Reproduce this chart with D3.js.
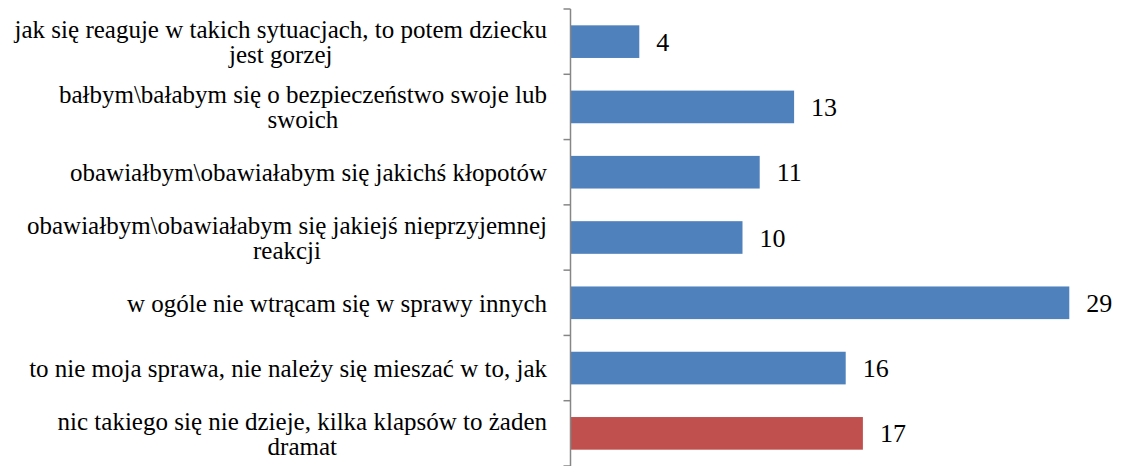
<!DOCTYPE html>
<html>
<head>
<meta charset="utf-8">
<script src="https://cdn.jsdelivr.net/npm/d3@7"></script>
<style>
  html, body { margin: 0; padding: 0; background: #fff; }
  svg { display: block; }
  .lbl { font-family: "Liberation Serif", "DejaVu Serif", serif; }
</style>
</head>
<body>
<svg id="chart" width="1121" height="466"></svg>
<script>
// Answers, listed top to bottom; "\n" marks a line break in the label
const categories = [
  "jak się reaguje w takich sytuacjach, to potem dziecku\njest gorzej",
  "bałbym\\bałabym się o bezpieczeństwo swoje lub\nswoich",
  "obawiałbym\\obawiałabym się jakichś kłopotów",
  "obawiałbym\\obawiałabym się jakiejś nieprzyjemnej\nreakcji",
  "w ogóle nie wtrącam się w sprawy innych",
  "to nie moja sprawa, nie należy się mieszać w to, jak",
  "nic takiego się nie dzieje, kilka klapsów to żaden\ndramat"
];
const values = [4, 13, 11, 10, 29, 16, 17];
const highlighted = [false, false, false, false, false, false, true];

const chartW = 1121, chartH = 466;
const axisX = 570.5, plotTop = 9, plotBottom = 466;

const svg = d3.select("#chart");

const y = d3.scaleBand()
  .domain(categories)
  .range([plotTop, plotBottom])
  .paddingInner(0.5)
  .paddingOuter(0.25);

const x = d3.scaleLinear()
  .domain([0, 30])
  .range([axisX, axisX + 516]);

// Bars
svg.append("g")
  .selectAll("rect")
  .data(categories)
  .join("rect")
  .attr("x", axisX)
  .attr("y", d => y(d))
  .attr("width", (d, i) => x(values[i]) - axisX)
  .attr("height", y.bandwidth())
  .attr("fill", (d, i) => highlighted[i] ? "#C0504D" : "#4F81BD");

// Value labels
svg.append("g")
  .attr("class", "lbl")
  .selectAll("text")
  .data(categories)
  .join("text")
  .attr("x", (d, i) => x(values[i]) + 17)
  .attr("y", d => y(d) + y.bandwidth() / 2)
  .attr("dy", "0.35em")
  .style("font-size", "26px")
  .attr("fill", "#000")
  .text((d, i) => values[i]);

// Category axis: vertical line with ticks on the band boundaries
const step = (plotBottom - plotTop) / categories.length;
const axisG = svg.append("g");
axisG.append("line")
  .attr("x1", axisX).attr("x2", axisX)
  .attr("y1", plotTop).attr("y2", plotBottom)
  .attr("stroke", "#868686").attr("stroke-width", 1.5);
axisG.selectAll("line.tick")
  .data(d3.range(categories.length + 1))
  .join("line")
  .attr("class", "tick")
  .attr("x1", axisX - 7).attr("x2", axisX)
  .attr("y1", i => plotTop + i * step).attr("y2", i => plotTop + i * step)
  .attr("stroke", "#868686").attr("stroke-width", 1.5);

// Category labels: right-aligned block, lines centred within it
const labelRight = 547;
const lineH = 25;
const labelG = svg.append("g")
  .attr("class", "lbl")
  .style("font-size", "25px")
  .attr("fill", "#000");

categories.forEach(c => {
  const lines = c.split("\n");
  const cy = y(c) + y.bandwidth() / 2;
  const g = labelG.append("g");
  const texts = lines.map((ln, j) => g.append("text")
    .attr("y", cy + (j - (lines.length - 1) / 2) * lineH)
    .attr("dy", "0.35em")
    .text(ln));
  const widths = texts.map(t => t.node().getComputedTextLength());
  const blockW = d3.max(widths);
  texts.forEach(t => t
    .attr("x", labelRight - blockW / 2)
    .attr("text-anchor", "middle"));
});
</script>
</body>
</html>
